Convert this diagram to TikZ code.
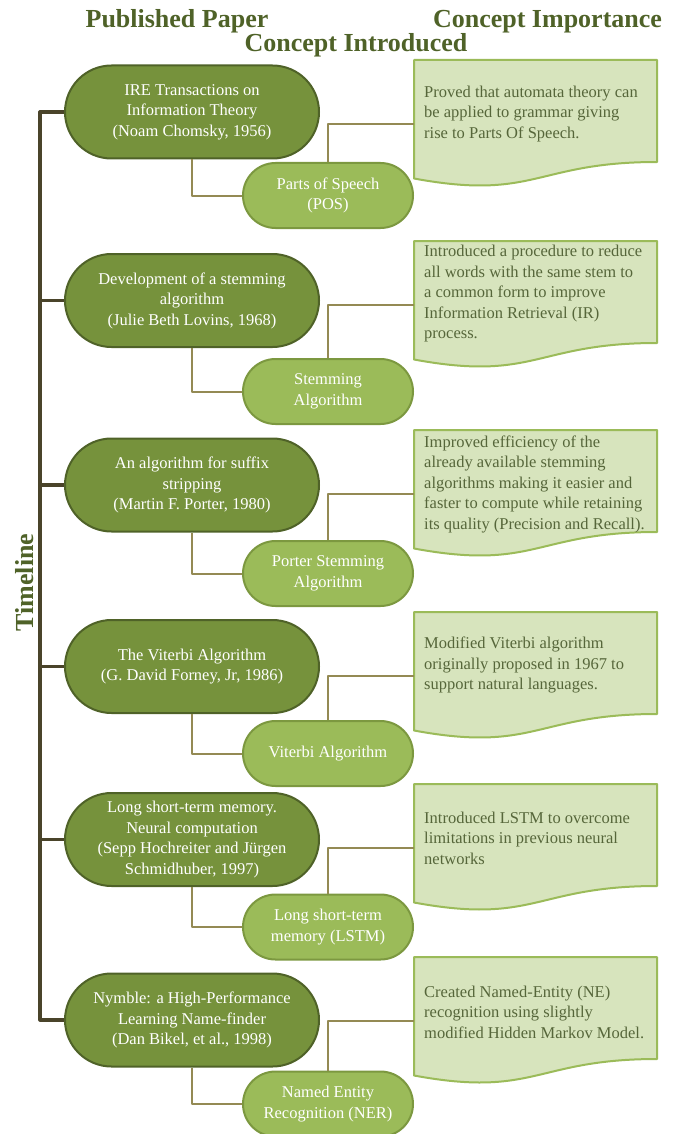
\documentclass[tikz,border=0pt]{standalone}
\usepackage{fontspec}
\setmainfont{Liberation Serif}
\usetikzlibrary{positioning}
\usetikzlibrary{shapes.misc}
\definecolor{olivedark}{HTML}{4F6228}
\definecolor{olivemid}{HTML}{76923C}
\definecolor{olivelight}{HTML}{9BBB59}
\definecolor{olivepale}{HTML}{D7E4BD}
\definecolor{khaki}{HTML}{948A54}
\definecolor{trunk}{HTML}{4A442A}
\definecolor{notetext}{HTML}{56663A}
\tikzset{
  every picture/.style={x=1pt, y=-1pt, line join=round,
    font={\fontsize{16.5}{20.5}\selectfont}}}

\begin{document}
\begin{tikzpicture}[
    heading/.style={text=olivedark, font={\fontsize{26}{28}\selectfont\bfseries}, anchor=base, inner sep=0pt},
    paper/.style={rounded rectangle, draw=olivedark, line width=2pt, fill=olivemid, text=white,
      align=center, minimum width=258pt, minimum height=93pt, inner sep=2pt},
    concept/.style={rounded rectangle, draw=olivemid!85!olivelight, line width=2pt, fill=olivelight,
      text=white, align=center, minimum width=174pt, minimum height=65pt, inner sep=2pt},
    note/.style={anchor=west, align=left, text=notetext, inner sep=0pt},
    docshape/.style={draw=olivelight, line width=2pt, fill=olivepale},
    timeline/.style={draw=trunk, line width=3.2pt},
    link/.style={draw=khaki, line width=2pt},
    docbox/.pic={
      \path[docshape] (0,0) -- (243,0) -- (243,102)
        .. controls (121.5,102) and (121.5,141) .. (0,118.5) -- cycle;
      \coordinate (-link) at (0,64);
    }]
    \useasboundingbox (0,0) rectangle (680,1134);

    % headings
    \node[heading] (HP) at (177,28) {Published Paper};
    \node[heading] (HI) at (547.5,28) {Concept Importance};
    \node[heading] (HC) at (356,52) {Concept Introduced};
    \node[heading, rotate=90] (HT) at (33,582.5) {Timeline};

    % published papers
    \node[paper] (P1) at (192,112) {IRE Transactions on\\Information Theory\\(Noam Chomsky, 1956)};
    \node[paper] (P2) at (192,300.5) {Development of a stemming\\algorithm\\(Julie Beth Lovins, 1968)};
    \node[paper] (P3) at (192,485) {An algorithm for suffix\\stripping\\(Martin F. Porter, 1980)};
    \node[paper] (P4) at (192,666.5) {The Viterbi Algorithm\\(G. David Forney, Jr, 1986)};
    \node[paper] (P5) at (192,839.5) {Long short-term memory.\\Neural computation\\(Sepp Hochreiter and Jürgen\\Schmidhuber, 1997)};
    \node[paper] (P6) at (192,1020) {Nymble: a High-Performance\\Learning Name-finder\\(Dan Bikel, et al., 1998)};

    % concepts introduced
    \node[concept] (C1) at (328,195.5) {Parts of Speech\\(POS)};
    \node[concept] (C2) at (328,391.5) {Stemming\\Algorithm};
    \node[concept] (C3) at (328,573.5) {Porter Stemming\\Algorithm};
    \node[concept] (C4) at (328,753.5) {Viterbi Algorithm};
    \node[concept] (C5) at (328,927) {Long short-term\\memory (LSTM)};
    \node[concept] (C6) at (328,1104) {Named Entity\\Recognition (NER)};

    % concept importance
    \pic (D1) at (414,60) {docbox};
    \pic (D2) at (414,241) {docbox};
    \pic (D3) at (414,430) {docbox};
    \pic (D4) at (414,612) {docbox};
    \pic (D5) at (414,784) {docbox};
    \pic (D6) at (414,957) {docbox};

    \node[note] (N1) at (424,114) {Proved that automata theory can\\be applied to grammar giving\\rise to Parts Of Speech.};
    \node[note] (N2) at (424,294) {Introduced a procedure to reduce\\all words with the same stem to\\a common form to improve\\Information Retrieval (IR)\\process.};
    \node[note] (N3) at (424,484) {Improved efficiency of the\\already available stemming\\algorithms making it easier and\\faster to compute while retaining\\its quality (Precision and Recall).};
    \node[note] (N4) at (424,665) {Modified Viterbi algorithm\\originally proposed in 1967 to\\support natural languages.};
    \node[note] (N5) at (424,838) {Introduced LSTM to overcome\\limitations in previous neural\\networks};
    \node[note] (N6) at (424,1012) {Created Named-Entity (NE)\\recognition using slightly\\modified Hidden Markov Model.};

    % timeline
    \coordinate (axis) at (40,0);
    \draw[timeline] (P1.west) -- (P1.west -| axis) -- (P6.west -| axis) -- (P6.west);
    \draw[timeline] (P2.west -| axis) -- (P2.west);
    \draw[timeline] (P3.west -| axis) -- (P3.west);
    \draw[timeline] (P4.west -| axis) -- (P4.west);
    \draw[timeline] (P5.west -| axis) -- (P5.west);

    % links
    \draw[link] (P1.south) |- (C1.west);
    \draw[link] (P2.south) |- (C2.west);
    \draw[link] (P3.south) |- (C3.west);
    \draw[link] (P4.south) |- (C4.west);
    \draw[link] (P5.south) |- (C5.west);
    \draw[link] (P6.south) |- (C6.west);

    \draw[link] (C1.north) |- (D1-link);
    \draw[link] (C2.north) |- (D2-link);
    \draw[link] (C3.north) |- (D3-link);
    \draw[link] (C4.north) |- (D4-link);
    \draw[link] (C5.north) |- (D5-link);
    \draw[link] (C6.north) |- (D6-link);
  \end{tikzpicture}
\end{document}
